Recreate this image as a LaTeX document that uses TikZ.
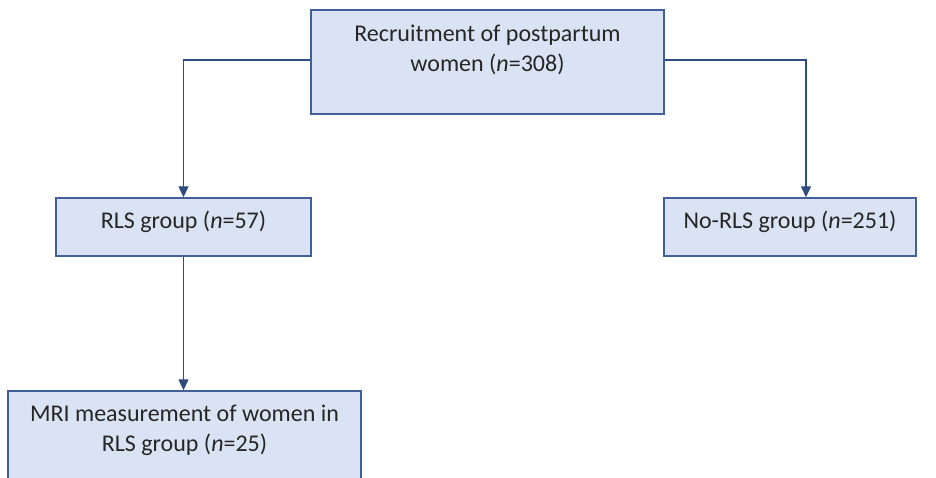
\documentclass[tikz,border=0pt]{standalone}
\usepackage{fontspec}
\setmainfont{Carlito}
\usetikzlibrary{arrows.meta}
\definecolor{boxfill}{HTML}{DAE3F3}
\definecolor{boxline}{HTML}{41609A}
\definecolor{arrline}{HTML}{2F4C7F}
\tikzset{
  box/.style={draw=boxline, fill=boxfill, line width=1.4pt, rectangle, inner sep=0pt},
  txt/.style={font=\fontsize{24}{30}\selectfont, align=center, inner sep=0pt, text=black!85},
  conn/.style={draw=arrline, line width=1.3pt, -{Triangle[length=11pt,width=10pt]}}
}
\begin{document}
\begin{tikzpicture}[x=1pt,y=-1pt]
\useasboundingbox (0,0) rectangle (936,477);
\clip (0,0) rectangle (936,477);
% boxes
\node[box, minimum width=353pt, minimum height=104pt] (rec) at (487.5,62) {};
\node[box, minimum width=255pt, minimum height=58pt] (rls) at (183.5,227) {};
\node[box, minimum width=252pt, minimum height=58pt] (norls) at (790,227) {};
\node[box, minimum width=353pt, minimum height=100pt] (mri) at (184.5,441) {};
% texts (base = baseline of the last line)
\node[txt, anchor=base] (rect) at (487.5,71) {Recruitment of postpartum\\women (\textit{n}=308)};
\node[txt, anchor=base] (rlst) at (183.5,228) {RLS group (\textit{n}=57)};
\node[txt, anchor=base] (norlst) at (790,228) {No-RLS group (\textit{n}=251)};
\node[txt, anchor=base] (mrit) at (184.5,451) {MRI measurement of women in\\RLS group (\textit{n}=25)};
% connectors
\draw[conn] ([yshift=2pt]rec.west) -| (rls.north);
\draw[conn] ([yshift=2pt]rec.east) -| ([xshift=16pt]norls.north);
\draw[conn] (rls.south) -- (rls.south |- mri.north);
\end{tikzpicture}
\end{document}
